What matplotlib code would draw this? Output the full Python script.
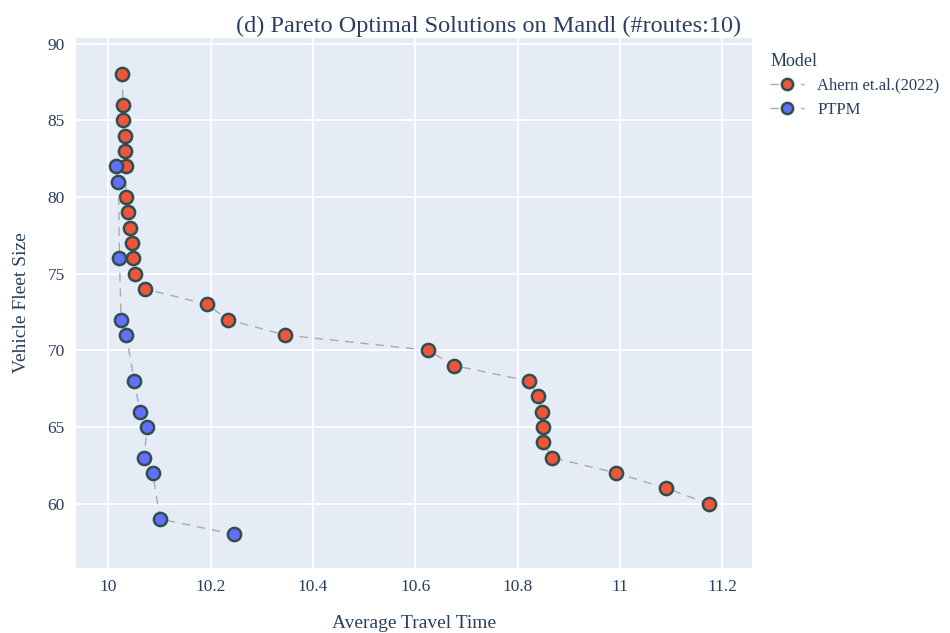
import matplotlib.pyplot as plt

# Data
ahern_fleet = [88, 86, 85, 84, 83, 82, 80, 79, 78, 77, 76, 75, 74, 73, 72, 71,
               70, 69, 68, 67, 66, 65, 64, 63, 62, 61, 60]
ahern_time = [10.027, 10.029, 10.029, 10.033, 10.032, 10.034, 10.035, 10.038,
              10.042, 10.046, 10.049, 10.052, 10.072, 10.193, 10.234, 10.345,
              10.625, 10.676, 10.822, 10.840, 10.848, 10.849, 10.850, 10.867,
              10.993, 11.090, 11.173]

ptpm_fleet = [82, 81, 76, 72, 71, 68, 66, 65, 63, 62, 59, 58]
ptpm_time = [10.015, 10.020, 10.022, 10.025, 10.035, 10.051, 10.062, 10.076,
             10.070, 10.087, 10.101, 10.245]

text_color = '#2a3f5f'
plt.rcParams['font.family'] = ['Liberation Serif', 'DejaVu Serif']

fig = plt.figure(figsize=(9.5, 6.33), dpi=100)
ax = fig.add_axes([0.08, 0.1027, 0.7116, 0.838])
ax.set_facecolor('#E5ECF6')

series = [('Ahern et.al.(2022)', ahern_time, ahern_fleet, '#EF553B'),
          ('PTPM', ptpm_time, ptpm_fleet, '#636EFA')]
for name, xs, ys, col in series:
    ax.plot(xs, ys, color='#aaaaaa', linestyle=(0, (6, 5)), linewidth=1.0,
            marker='o', markersize=9.5, markerfacecolor=col,
            markeredgecolor='#2F4F4F', markeredgewidth=1.8, label=name)

ax.set_xlim(9.937, 11.258)
ax.set_ylim(55.8, 90.4)
ax.set_xticks([10, 10.2, 10.4, 10.6, 10.8, 11, 11.2])
ax.set_xticklabels(['10', '10.2', '10.4', '10.6', '10.8', '11', '11.2'])
ax.set_yticks([60, 65, 70, 75, 80, 85, 90])
ax.grid(color='white', linewidth=1.3)
ax.set_axisbelow(True)
for s in ax.spines.values():
    s.set_visible(False)
ax.tick_params(length=0, labelsize=12.5, colors=text_color, pad=8)

ax.set_xlabel('Average Travel Time', fontsize=14, color=text_color, labelpad=14)
ax.set_ylabel('Vehicle Fleet Size', fontsize=14, color=text_color, labelpad=13)
fig.suptitle('(d) Pareto Optimal Solutions on Mandl (#routes:10)', x=0.514, y=0.975,
             fontsize=17.5, color=text_color)

leg = ax.legend(title='Model', loc='upper left', bbox_to_anchor=(1.005, 1.0),
                frameon=False, fontsize=12, title_fontsize=13, labelcolor=text_color,
                handlelength=2.0, markerscale=0.85, alignment='left')
leg.get_title().set_color(text_color)

fig.savefig('out.png', dpi=100)
